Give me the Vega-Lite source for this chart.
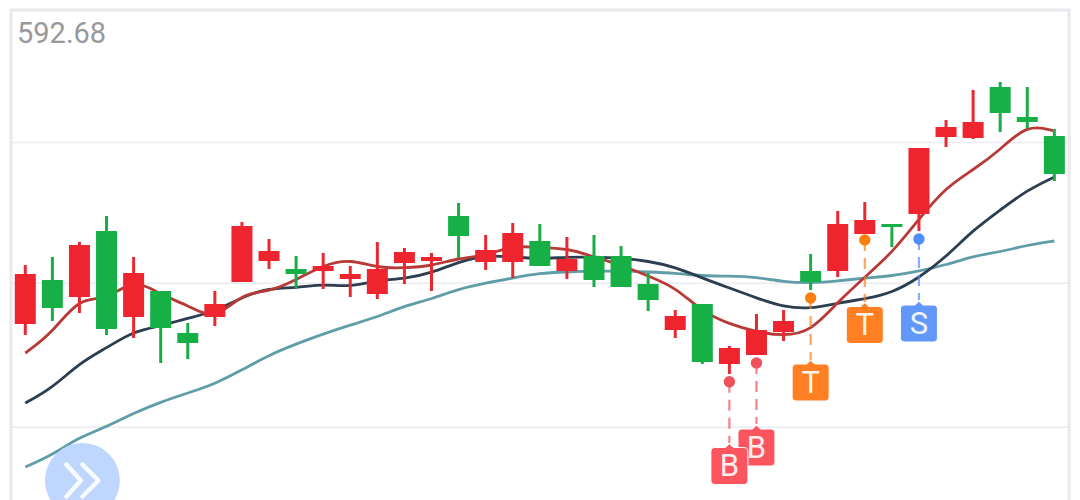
{"$schema":"https://vega.github.io/schema/vega-lite/v6.json","width":1080,"height":500,"padding":0,"autosize":{"type":"fit","contains":"padding"},"background":"white","config":{"view":{"stroke":null}},
"datasets":{
"candles":[
{"i":0,"o":561.28,"h":567.18,"l":560.18,"c":566.28,"ma5":558.38,"ma10":553.38,"ma20":546.98},
{"i":1,"o":565.68,"h":567.98,"l":561.58,"c":562.88,"ma5":560.38,"ma10":554.88,"ma20":548.18},
{"i":2,"o":563.98,"h":569.48,"l":562.38,"c":569.18,"ma5":564.0,"ma10":557.38,"ma20":549.98},
{"i":3,"o":570.58,"h":572.08,"l":560.18,"c":560.78,"ma5":563.6,"ma10":558.88,"ma20":550.98},
{"i":4,"o":561.98,"h":567.98,"l":559.88,"c":566.38,"ma5":565.9,"ma10":560.58,"ma20":552.38},
{"i":5,"o":564.58,"h":564.58,"l":557.38,"c":560.88,"ma5":564.18,"ma10":561.08,"ma20":553.48},
{"i":6,"o":560.38,"h":561.38,"l":557.78,"c":559.38,"ma5":563.18,"ma10":561.88,"ma20":554.38},
{"i":7,"o":561.98,"h":564.58,"l":561.08,"c":563.28,"ma5":561.6,"ma10":562.48,"ma20":555.28},
{"i":8,"o":565.48,"h":571.48,"l":565.48,"c":571.08,"ma5":564.38,"ma10":563.98,"ma20":556.68},
{"i":9,"o":567.58,"h":569.78,"l":566.78,"c":568.58,"ma5":564.48,"ma10":564.88,"ma20":558.18},
{"i":10,"o":566.78,"h":568.08,"l":564.88,"c":566.28,"ma5":565.68,"ma10":564.88,"ma20":559.28},
{"i":11,"o":566.58,"h":568.38,"l":564.78,"c":567.08,"ma5":567.18,"ma10":565.28,"ma20":560.28},
{"i":12,"o":565.78,"h":567.08,"l":563.98,"c":566.28,"ma5":567.78,"ma10":564.98,"ma20":561.18},
{"i":13,"o":564.28,"h":569.48,"l":563.78,"c":566.78,"ma5":566.88,"ma10":565.68,"ma20":561.98},
{"i":14,"o":567.38,"h":568.88,"l":565.28,"c":568.48,"ma5":566.88,"ma10":565.78,"ma20":563.08},
{"i":15,"o":567.58,"h":568.38,"l":564.58,"c":567.98,"ma5":567.08,"ma10":566.38,"ma20":563.78},
{"i":16,"o":572.08,"h":573.38,"l":567.88,"c":570.08,"ma5":567.88,"ma10":567.48,"ma20":564.78},
{"i":17,"o":567.48,"h":570.18,"l":566.68,"c":568.68,"ma5":568.08,"ma10":568.18,"ma20":565.38},
{"i":18,"o":567.48,"h":571.38,"l":565.88,"c":570.38,"ma5":569.18,"ma10":567.98,"ma20":565.88},
{"i":19,"o":569.58,"h":571.28,"l":567.08,"c":567.08,"ma5":568.88,"ma10":567.78,"ma20":566.38},
{"i":20,"o":566.58,"h":569.98,"l":565.78,"c":567.78,"ma5":568.88,"ma10":567.98,"ma20":566.48},
{"i":21,"o":568.08,"h":570.18,"l":564.98,"c":565.68,"ma5":567.98,"ma10":567.98,"ma20":566.58},
{"i":22,"o":568.08,"h":569.08,"l":564.98,"c":564.98,"ma5":567.18,"ma10":567.88,"ma20":566.58},
{"i":23,"o":565.28,"h":566.38,"l":562.58,"c":563.68,"ma5":566.08,"ma10":567.58,"ma20":566.48},
{"i":24,"o":560.68,"h":562.68,"l":559.88,"c":562.08,"ma5":564.98,"ma10":566.98,"ma20":566.38},
{"i":25,"o":563.28,"h":563.28,"l":557.28,"c":557.48,"ma5":562.48,"ma10":565.88,"ma20":566.08},
{"i":26,"o":557.28,"h":559.08,"l":556.28,"c":558.88,"ma5":561.28,"ma10":564.88,"ma20":566.08},
{"i":27,"o":558.18,"h":562.28,"l":558.18,"c":560.68,"ma5":560.48,"ma10":563.88,"ma20":565.98},
{"i":28,"o":560.48,"h":562.68,"l":559.58,"c":561.58,"ma5":560.08,"ma10":562.98,"ma20":565.48},
{"i":29,"o":566.58,"h":568.28,"l":564.68,"c":565.48,"ma5":560.48,"ma10":562.78,"ma20":565.38},
{"i":30,"o":566.58,"h":572.58,"l":565.98,"c":571.28,"ma5":563.48,"ma10":563.38,"ma20":565.58},
{"i":31,"o":570.28,"h":573.48,"l":570.28,"c":571.68,"ma5":565.98,"ma10":563.78,"ma20":565.88},
{"i":32,"o":571.28,"h":571.28,"l":568.98,"c":570.98,"ma5":568.38,"ma10":564.38,"ma20":566.08},
{"i":33,"o":572.28,"h":578.88,"l":570.58,"c":578.88,"ma5":571.78,"ma10":565.88,"ma20":566.58},
{"i":34,"o":579.98,"h":581.68,"l":578.98,"c":580.98,"ma5":574.98,"ma10":567.98,"ma20":567.18},
{"i":35,"o":579.88,"h":584.68,"l":579.78,"c":581.48,"ma5":576.68,"ma10":570.68,"ma20":568.08},
{"i":36,"o":584.98,"h":585.48,"l":580.48,"c":582.38,"ma5":578.68,"ma10":572.68,"ma20":568.48},
{"i":37,"o":581.98,"h":584.98,"l":580.88,"c":581.48,"ma5":581.3,"ma10":574.68,"ma20":569.18},
{"i":38,"o":580.08,"h":580.78,"l":575.58,"c":576.28,"ma5":580.58,"ma10":575.98,"ma20":569.58}
],
"signals":[
{"i":27,"signal":"B","point":557.38,"tip":551.28,"box":548.93},
{"i":26,"signal":"B","point":555.51,"tip":549.38,"box":547.08},
{"i":29,"signal":"T","point":563.88,"tip":557.68,"box":555.43},
{"i":31,"signal":"T","point":569.68,"tip":563.48,"box":561.18},
{"i":33,"signal":"S","point":569.78,"tip":563.68,"box":561.33}
],
"grid":[
{"x":-0.528,"x2":38.545,"y":579.43},
{"x":-0.528,"x2":38.545,"y":565.35},
{"x":-0.528,"x2":38.545,"y":550.95}
],
"frame":[{"x":-0.528,"x2":38.545,"y":592.68,"y2":540,"label":"592.68"}],
"button":[{"i":2.11,"price":545.63}]
},
"encoding":{
"x":{"field":"i","type":"quantitative","axis":null,"scale":{"domain":[-0.934,38.947],"nice":false,"zero":false,"padding":0}}
},
"layer":[
{"data":{"name":"grid"},"mark":{"type":"rule","color":"#ebebf2","strokeWidth":1.5,"clip":true},
 "encoding":{"x":{"field":"x","type":"quantitative","axis":null},"x2":{"field":"x2"},"y":{"field":"y","type":"quantitative","axis":null,"scale":{"domain":[543.68,593.68],"nice":false,"zero":false}}}},
{"data":{"name":"frame"},"mark":{"type":"rect","fill":"transparent","stroke":"#e9e9ed","strokeWidth":3,"clip":true},
 "encoding":{"x":{"field":"x","type":"quantitative","axis":null},"x2":{"field":"x2"},"y":{"field":"y","type":"quantitative","axis":null,"scale":{"domain":[543.68,593.68],"nice":false,"zero":false}},"y2":{"field":"y2"}}},
{"data":{"name":"frame"},"mark":{"type":"text","align":"left","baseline":"middle","dx":6,"dy":24,"font":"Roboto","fontSize":29,"color":"#999999"},
 "encoding":{"x":{"field":"x","type":"quantitative","axis":null},"y":{"field":"y","type":"quantitative","axis":null},"text":{"field":"label"}}},
{"data":{"name":"candles"},"mark":{"type":"line","color":"#5f9ea8","strokeWidth":2.8,"interpolate":"basis","clip":true},
 "encoding":{"y":{"field":"ma20","type":"quantitative","axis":null}}},
{"data":{"name":"candles"},"mark":{"type":"line","color":"#2c3e50","strokeWidth":2.8,"interpolate":"basis","clip":true},
 "encoding":{"y":{"field":"ma10","type":"quantitative","axis":null}}},
{"data":{"name":"candles"},"mark":{"type":"line","color":"#b83a36","strokeWidth":2.8,"interpolate":"basis","clip":true},
 "encoding":{"y":{"field":"ma5","type":"quantitative","axis":null}}},
{"data":{"name":"candles"},"mark":{"type":"rule","strokeWidth":3,"clip":true},
 "encoding":{"y":{"field":"l","type":"quantitative","axis":null},"y2":{"field":"h"},
 "color":{"condition":{"test":"datum.c>=datum.o","value":"#e72a32"},"value":"#19ad47"}}},
{"data":{"name":"candles"},"mark":{"type":"bar","width":21,"clip":true},
 "encoding":{"y":{"field":"o","type":"quantitative","axis":null},"y2":{"field":"c"},
 "color":{"condition":{"test":"datum.c>=datum.o","value":"#ee252e"},"value":"#16b046"}}},
{"data":{"name":"signals"},"mark":{"type":"rule","strokeWidth":2.2,"strokeDash":[11,7],"opacity":0.7,"clip":true},
 "encoding":{"y":{"field":"point","type":"quantitative","axis":null},"y2":{"field":"tip"},
 "color":{"field":"signal","type":"nominal","legend":null,"scale":{"domain":["B","T","S"],"range":["#f0505a","#ff7f0e","#4f8dfb"]}}}},
{"data":{"name":"signals"},"mark":{"type":"point","filled":true,"opacity":1,"size":130,"shape":"circle","clip":true},
 "encoding":{"y":{"field":"point","type":"quantitative","axis":null},
 "color":{"field":"signal","type":"nominal","legend":null,"scale":{"domain":["B","T","S"],"range":["#f0505a","#ff7f0e","#4f8dfb"]}}}},
{"data":{"name":"signals"},"mark":{"type":"point","filled":true,"opacity":1,"size":1369,"clip":true,"stroke":"#ffffff","strokeWidth":1,"shape":"M-0.8,-1L-0.22,-1L0,-1.2L0.22,-1L0.8,-1Q1,-1 1,-0.8L1,0.8Q1,1 0.8,1L-0.8,1Q-1,1 -1,0.8L-1,-0.8Q-1,-1 -0.8,-1Z"},
 "encoding":{"y":{"field":"box","type":"quantitative","axis":null},
 "fill":{"field":"signal","type":"nominal","legend":null,"scale":{"domain":["B","T","S"],"range":["#fd5560","#ff7f22","#6398fb"]}}}},
{"data":{"name":"signals"},"mark":{"type":"text","font":"Roboto","fontSize":31,"color":"#ffffff","opacity":0.9,"align":"center","baseline":"middle","dy":1,"clip":true},
 "encoding":{"y":{"field":"box","type":"quantitative","axis":null},"text":{"field":"signal"}}},
{"data":{"name":"button"},"mark":{"type":"point","filled":true,"shape":"circle","size":5625,"color":"#bfd7ff","opacity":1,"clip":true},
 "encoding":{"y":{"field":"price","type":"quantitative","axis":null}}},
{"data":{"name":"button"},"mark":{"type":"point","filled":false,"size":1024,"stroke":"#ffffff","strokeWidth":4.5,"strokeCap":"round","strokeJoin":"round","opacity":0.9,"clip":true,"shape":"M-1,-1L-0.1,0L-1,1M0,-1L1,0L0,1"},
 "encoding":{"y":{"field":"price","type":"quantitative","axis":null}}}
]}
